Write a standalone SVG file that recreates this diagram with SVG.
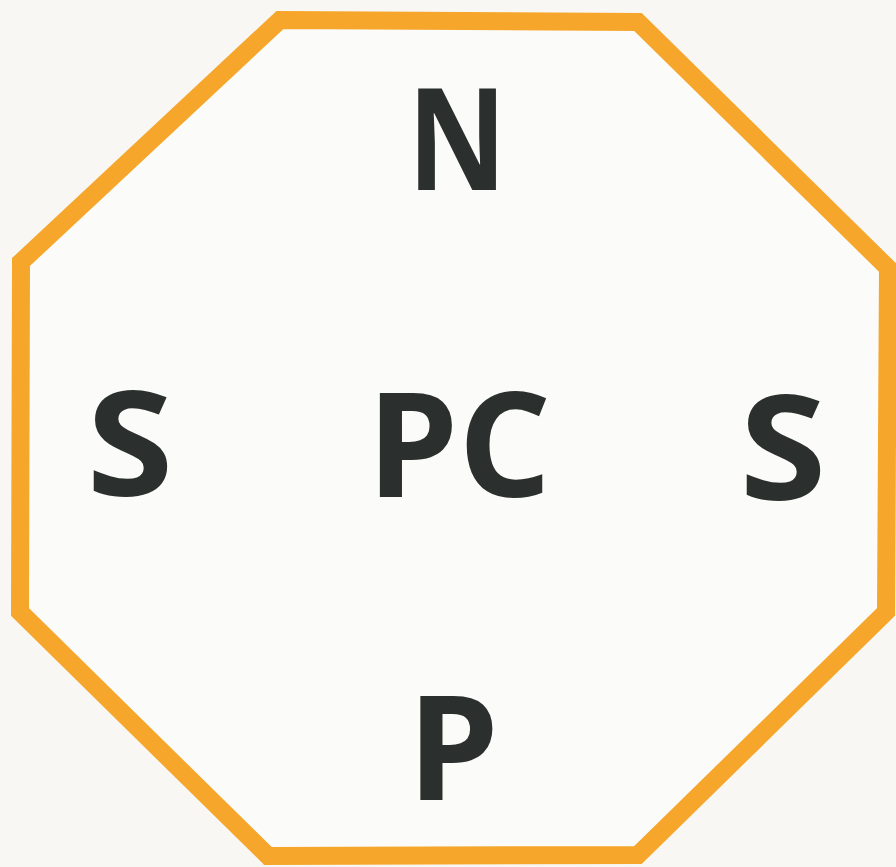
<svg xmlns="http://www.w3.org/2000/svg" width="896" height="867" viewBox="0 0 896 867">
<style>
.lbl{font-family:"Open Sans","DejaVu Sans",sans-serif;font-weight:700;font-size:146px;fill:#2b2f2d;text-anchor:middle}
</style>
<rect width="896" height="867" fill="#f8f7f4"/>
<g id="octagon">
<polygon points="280,20 638,22 888,268 886,612 638,855 268,856 20,612 21,262" fill="#fbfbf9" stroke="#f6a62a" stroke-width="18" stroke-linejoin="miter"/>
</g>
<g id="connectors"></g>
<g id="node-N"><text class="lbl" transform="translate(457,190) scale(0.84,0.97)">N</text></g>
<g id="node-S-left"><text class="lbl" transform="translate(130,496) scale(1.08,1)">S</text></g>
<g id="node-PC"><text class="lbl" x="459" y="497">PC</text></g>
<g id="node-S-right"><text class="lbl" transform="translate(783,500) scale(1.08,1)">S</text></g>
<g id="node-P"><text class="lbl" x="453" y="800">P</text></g>
</svg>
